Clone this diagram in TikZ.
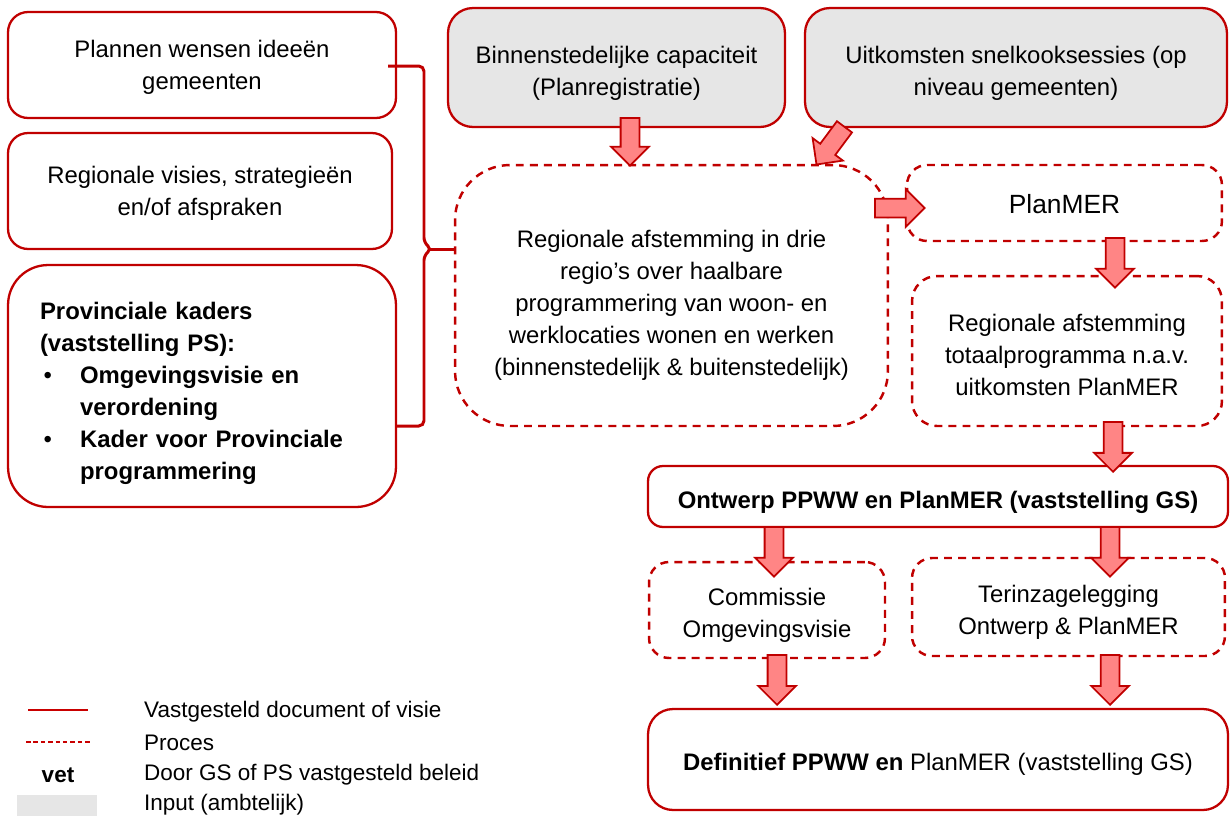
\documentclass[tikz,border=0pt]{standalone}
\usepackage{fontspec}
\setmainfont{Liberation Sans}
\usetikzlibrary{shapes.arrows,calc}

\definecolor{darkred}{HTML}{C00000}
\definecolor{arrowfill}{HTML}{FF8585}
\definecolor{inputgrey}{HTML}{E6E6E6}

\tikzset{
  vastbox/.style={draw=darkred, line width=1.3pt, rounded corners=0.4cm, align=center, inner sep=0pt},
  inputbox/.style={vastbox, fill=inputgrey, rounded corners=0.5cm},
  procesbox/.style={draw=darkred, line width=1.4pt, dash pattern=on 4.5pt off 3.5pt,
    rounded corners=0.4cm, align=center, inner sep=0pt},
  blockarrow/.style={single arrow, draw=darkred, fill=arrowfill, line width=1pt,
    inner xsep=0pt, inner ysep=0.17cm, single arrow head extend=0.19cm, allow upside down},
  legendtext/.style={anchor=west, font=\fontsize{12.8}{16}\selectfont},
}

% extra room above the first line, pushes the text down a little
\newcommand{\topgap}[1]{\rule{0pt}{#1}}

% block arrow from #1 to #2
\newcommand{\flowarrow}[2]{%
  \path let \p1=($(#2)-(#1)$) in (#1) -- (#2)
    node[blockarrow, pos=0, sloped, anchor=tail, minimum height={veclen(\x1,\y1)}] {};}

\begin{document}
\begin{tikzpicture}[x=0.02cm, y=-0.02cm, every node/.style={font=\fontsize{13.6}{18.2}\selectfont}]
\useasboundingbox (0,0) rectangle (1232,816);

% linker kolom
\node[vastbox, minimum width=7.76cm, minimum height=2.12cm] (plannen) at (202,65)
  {\topgap{12pt}Plannen wensen ideeën\\gemeenten};
\node[vastbox, minimum width=7.68cm, minimum height=2.32cm] (visies) at (200,191)
  {\topgap{12pt}Regionale visies, strategieën\\en/of afspraken};
\node[vastbox, rounded corners=0.8cm, minimum width=7.76cm, minimum height=4.84cm,
  text width=6.48cm, align=left] (kaders) at (202,386)
  {\topgap{18pt}\textbf{Provinciale kaders}\\
   \textbf{(vaststelling PS):}\\
   \makebox[22.8pt][l]{\hspace{2pt}•}\textbf{Omgevingsvisie en}\\
   \makebox[22.8pt][l]{}\textbf{verordening}\\
   \makebox[22.8pt][l]{\hspace{2pt}•}\textbf{Kader voor Provinciale}\\
   \makebox[22.8pt][l]{}\textbf{programmering}};

% input
\node[inputbox, minimum width=6.74cm, minimum height=2.38cm] (binnen) at (616.5,67.5)
  {\topgap{16.8pt}Binnenstedelijke capaciteit\\(Planregistratie)};
\node[inputbox, minimum width=8.44cm, minimum height=2.38cm] (uitkomst) at (1016,67.5)
  {\topgap{16.8pt}Uitkomsten snelkooksessies (op\\niveau gemeenten)};

% proces
\node[procesbox, rounded corners=1.1cm, minimum width=8.66cm, minimum height=5.22cm] (afstem) at (671.5,295.5)
  {\topgap{21.3pt}Regionale afstemming in drie\\regio's over haalbare\\programmering van woon- en\\werklocaties wonen en werken\\(binnenstedelijk \& buitenstedelijk)};
\node[procesbox, minimum width=6.3cm, minimum height=1.52cm, font=\fontsize{15}{18}\selectfont] (planmer) at (1064.5,203)
  {\topgap{12pt}PlanMER};
\node[procesbox, rounded corners=0.5cm, minimum width=6.2cm, minimum height=3cm] (totaal) at (1067,351)
  {\topgap{14.5pt}Regionale afstemming\\totaalprogramma n.a.v.\\uitkomsten PlanMER};
\node[vastbox, rounded corners=0.3cm, minimum width=11.6cm, minimum height=1.22cm] (ontwerp) at (938,496.5)
  {\topgap{16.8pt}\textbf{Ontwerp PPWW en PlanMER (vaststelling GS)}};
\node[procesbox, minimum width=4.72cm, minimum height=1.92cm] (commissie) at (767,610)
  {\topgap{15.6pt}Commissie\\Omgevingsvisie};
\node[procesbox, minimum width=6.26cm, minimum height=1.96cm] (terinzage) at (1068.5,607)
  {\topgap{15.6pt}Terinzagelegging\\Ontwerp \& PlanMER};
\node[vastbox, rounded corners=0.5cm, minimum width=11.6cm, minimum height=2.02cm] (definitief) at (938,759.5)
  {\topgap{15.6pt}\textbf{Definitief PPWW en} PlanMER (vaststelling GS)};

% accolade
\coordinate (bracetip) at (455,249);
\draw[darkred, line width=1.7pt, rounded corners=3pt]
  ([shift={(-9,1)}]plannen.east) -- (424,66) -- (424,243) -- (432,249) -- (424,255)
  -- (424,426) -- ([shift={(0,40)}]kaders.east);
\draw[darkred, line width=1.7pt] (430,249) -- (bracetip);

% pijlen
\flowarrow{[shift={(13.5,-11)}]binnen.south}{[shift={(-41.5,1)}]afstem.north}
\flowarrow{[shift={(-171,-2)}]uitkomst.south}{[shift={(145.5,0)}]afstem.north}
\flowarrow{[shift={(-15,-87.5)}]afstem.east}{[shift={(18,5)}]planmer.west}
\flowarrow{[shift={(50.5,-5)}]planmer.south}{[shift={(48,12)}]totaal.north}
\flowarrow{[shift={(46,-6)}]totaal.south}{[shift={(175,6)}]ontwerp.north}
\flowarrow{[shift={(-164,-2)}]ontwerp.south}{[shift={(7,15)}]commissie.north}
\flowarrow{[shift={(172,-2)}]ontwerp.south}{[shift={(41.5,19)}]terinzage.north}
\flowarrow{[shift={(10,-5)}]commissie.south}{[shift={(-161,-4)}]definitief.north}
\flowarrow{[shift={(41.5,-3)}]terinzage.south}{[shift={(172,-4)}]definitief.north}

% legenda
\draw[darkred!85!red, line width=1.1pt] (28,710) -- (88,710);
\draw[darkred!85!red, line width=0.9pt, dash pattern=on 2.6pt off 1.6pt] (26,742) -- (92,742);
\node[font=\fontsize{12.8}{16}\selectfont\bfseries] (vet) at (58,775) {vet};
\fill[inputgrey] (17,795) rectangle (97,816);
\node[legendtext] (lvast) at (138,712) {Vastgesteld document of visie};
\node[legendtext] (lproces) at (138,743) {Proces};
\node[legendtext] (lvet) at (138,775) {Door GS of PS vastgesteld beleid};
\node[legendtext] (linput) at (138,805) {Input (ambtelijk)};
\end{tikzpicture}
\end{document}
